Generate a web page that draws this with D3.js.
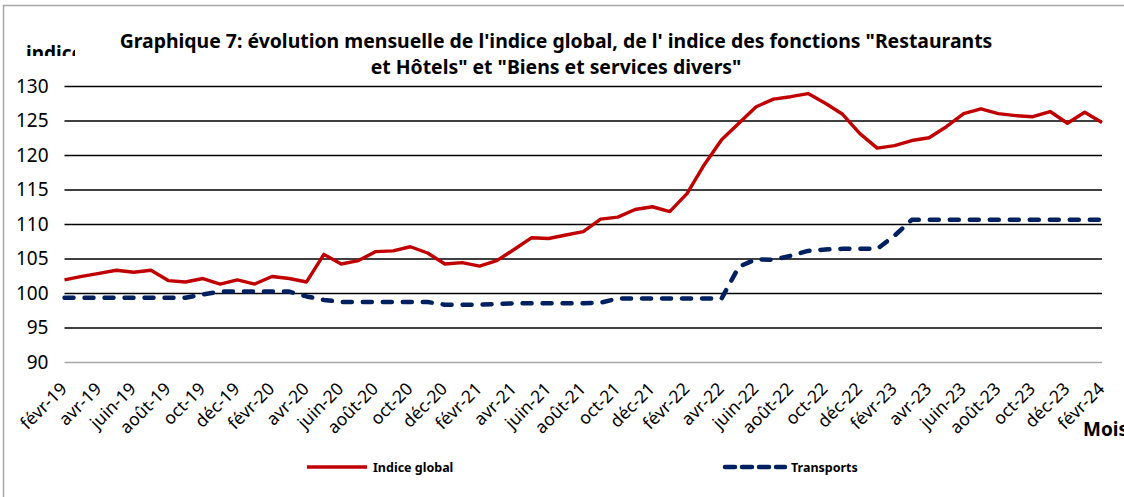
<!DOCTYPE html>
<html>
<head>
<meta charset="utf-8">
<script src="https://cdn.jsdelivr.net/npm/d3@7"></script>
<style>
body { margin: 0; background: #fff; }
text { font-family: "Noto Sans", sans-serif; fill: #000; }
</style>
</head>
<body>
<svg id="chart"></svg>
<script>
// months from févr-19 to févr-24
const months = [
	'févr-19', 'mars-19', 'avr-19', 'mai-19', 'juin-19', 'juil-19', 'août-19', 'sept-19', 'oct-19', 'nov-19', 'déc-19',
	'janv-20', 'févr-20', 'mars-20', 'avr-20', 'mai-20', 'juin-20', 'juil-20', 'août-20', 'sept-20', 'oct-20', 'nov-20', 'déc-20',
	'janv-21', 'févr-21', 'mars-21', 'avr-21', 'mai-21', 'juin-21', 'juil-21', 'août-21', 'sept-21', 'oct-21', 'nov-21', 'déc-21',
	'janv-22', 'févr-22', 'mars-22', 'avr-22', 'mai-22', 'juin-22', 'juil-22', 'août-22', 'sept-22', 'oct-22', 'nov-22', 'déc-22',
	'janv-23', 'févr-23', 'mars-23', 'avr-23', 'mai-23', 'juin-23', 'juil-23', 'août-23', 'sept-23', 'oct-23', 'nov-23', 'déc-23',
	'janv-24', 'févr-24'
];

const indiceGlobal = [
	101.9, 102.4, 102.85, 103.3, 103.0, 103.3, 101.8, 101.6, 102.1, 101.3, 101.9,
	101.3, 102.4, 102.1, 101.6, 105.6, 104.2, 104.7, 106.0, 106.1, 106.7, 105.8, 104.2,
	104.4, 103.9, 104.7, 106.3, 108.0, 107.9, 108.4, 108.9, 110.7, 111.0, 112.1, 112.5,
	111.8, 114.4, 118.6, 122.2, 124.6, 127.0, 128.1, 128.45, 128.9, 127.5, 125.9, 123.1,
	121.0, 121.35, 122.1, 122.5, 124.1, 126.0, 126.7, 126.0, 125.7, 125.55, 126.3, 124.6,
	126.2, 124.7
];

const transports = [
	99.3, 99.3, 99.3, 99.3, 99.3, 99.3, 99.3, 99.3, 99.8, 100.2, 100.2,
	100.2, 100.2, 100.2, 99.5, 99.0, 98.7, 98.7, 98.7, 98.7, 98.7, 98.7, 98.3,
	98.3, 98.3, 98.4, 98.5, 98.5, 98.5, 98.5, 98.5, 98.6, 99.2, 99.2, 99.2,
	99.2, 99.2, 99.2, 99.2, 103.8, 104.9, 104.8, 105.4, 106.1, 106.3, 106.4, 106.4,
	106.4, 108.3, 110.6, 110.6, 110.6, 110.6, 110.6, 110.6, 110.6, 110.6, 110.6, 110.6,
	110.6, 110.6
];

const yTicks = [90, 95, 100, 105, 110, 115, 120, 125, 130];
const xTickLabels = months.filter((d, i) => i % 2 === 0); // one label every two months

const titleLines = [
	'Graphique 7: évolution mensuelle de l\'indice global, de l\' indice des fonctions "Restaurants',
	'et Hôtels" et "Biens et services divers"'
];

const width = 1124;
const height = 497;
const plot = { left: 64.5, right: 1102, top: 86, bottom: 362 };

const svg = d3.select('#chart')
	.attr('width', width)
	.attr('height', height);

// chart frame (right and bottom edges fall outside the window)
svg.append('rect')
	.attr('x', 3.5)
	.attr('y', 5.5)
	.attr('width', 1140)
	.attr('height', 520)
	.attr('fill', 'none')
	.attr('stroke', '#a6a6a6')
	.attr('stroke-width', 1.5);

const x = d3.scalePoint()
	.domain(months)
	.range([plot.left, plot.right]);

const y = d3.scaleLinear()
	.domain([90, 130])
	.range([plot.bottom, plot.top]);

// gridlines + y labels
const yAxis = svg.append('g')
	.attr('transform', `translate(${plot.left},0)`)
	.call(d3.axisLeft(y)
		.tickValues(yTicks)
		.tickSize(-(plot.right - plot.left))
		.tickPadding(16)
		.tickFormat(d3.format('d')));

yAxis.select('.domain').remove();
yAxis.selectAll('line')
	.attr('stroke', (d) => d === 90 ? '#a6a6a6' : '#000')
	.attr('stroke-width', 1.4);
yAxis.selectAll('text')
	.attr('font-size', 19)
	.attr('font-family', '"Noto Sans", sans-serif');

// x labels, rotated
const xAxis = svg.append('g')
	.attr('transform', `translate(0,${plot.bottom})`)
	.call(d3.axisBottom(x).tickValues(xTickLabels).tickSize(0).tickFormat((d) => d));

xAxis.select('.domain').remove();
xAxis.selectAll('text')
	.attr('font-size', 17.5)
	.attr('font-family', '"Noto Sans", sans-serif')
	.attr('text-anchor', 'end')
	.attr('dy', null)
	.attr('y', null)
	.attr('transform', 'translate(3,28) rotate(-45)');

// series
const line = d3.line()
	.x((d, i) => x(months[i]))
	.y((d) => y(d));

svg.append('path')
	.datum(transports)
	.attr('d', line)
	.attr('fill', 'none')
	.attr('stroke', '#002060')
	.attr('stroke-width', 4.5)
	.attr('stroke-dasharray', '9,11')
	.attr('stroke-linecap', 'round')
	.attr('stroke-linejoin', 'round');

svg.append('path')
	.datum(indiceGlobal)
	.attr('d', line)
	.attr('fill', 'none')
	.attr('stroke', '#c00000')
	.attr('stroke-width', 3.4)
	.attr('stroke-linejoin', 'round');

// title, sized to fit the original width
const title = svg.append('g');
const titleText = title.selectAll('text')
	.data(titleLines)
	.enter().append('text')
	.attr('x', 556)
	.attr('y', (d, i) => 48 + i * 26)
	.attr('text-anchor', 'middle')
	.attr('font-weight', 'bold')
	.attr('font-size', 17)
	.text((d) => d);

const firstWidth = titleText.node().getComputedTextLength();
titleText.attr('font-size', 17 * 873 / firstWidth);

// y axis title, clipped like in the source
svg.append('clipPath')
	.attr('id', 'clip-indic')
	.append('rect')
	.attr('x', 0)
	.attr('y', 30)
	.attr('width', 75)
	.attr('height', 26);

svg.append('text')
	.attr('clip-path', 'url(#clip-indic)')
	.attr('x', 26)
	.attr('y', 60)
	.attr('font-weight', 'bold')
	.attr('font-size', 19)
	.text('indice');

// x axis title (runs past the right edge, as in the source)
svg.append('text')
	.attr('x', 1083)
	.attr('y', 436)
	.attr('font-weight', 'bold')
	.attr('font-size', 19)
	.text('Mois');

// legend
const legendItems = [
	{ name: 'Indice global', color: '#c00000', dash: null, width: 3.5, x: 305 },
	{ name: 'Transports', color: '#002060', dash: '10,7', width: 4.5, x: 723 }
];

const legend = svg.selectAll('.legend')
	.data(legendItems)
	.enter().append('g')
	.attr('class', 'legend')
	.attr('transform', (d) => `translate(${d.x},467)`);

legend.append('line')
	.attr('x1', 2)
	.attr('x2', 62)
	.attr('stroke', (d) => d.color)
	.attr('stroke-width', (d) => d.width)
	.attr('stroke-dasharray', (d) => d.dash)
	.attr('stroke-linecap', (d) => d.dash ? 'round' : 'butt');

legend.append('text')
	.attr('x', 68)
	.attr('y', 4.5)
	.attr('font-weight', 'bold')
	.attr('font-size', 12.5)
	.text((d) => d.name);
</script>
</body>
</html>
